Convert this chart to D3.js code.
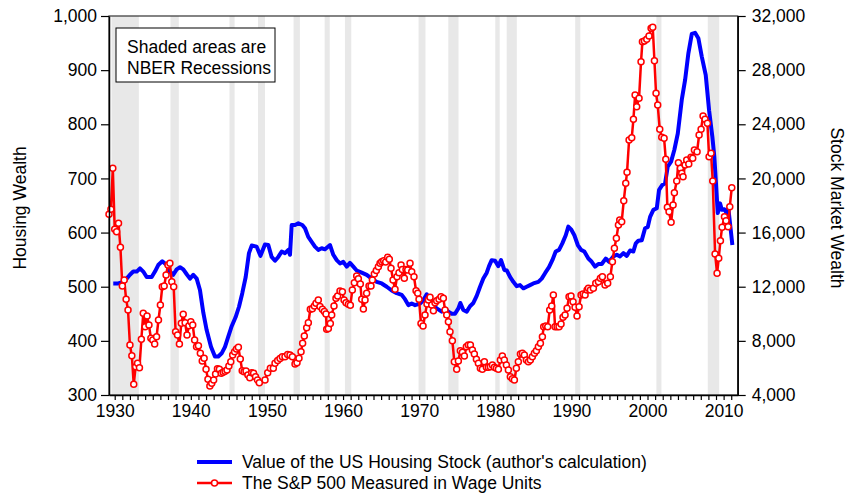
<!DOCTYPE html>
<html>
<head>
<meta charset="utf-8">
<script src="https://d3js.org/d3.v7.min.js"></script>
<style>
  body { margin: 0; background: #fff; }
  text { font-family: "Liberation Sans", Arial, sans-serif; fill: #000; }
</style>
</head>
<body>
<svg id="chart" width="848" height="496"></svg>
<script>
// NBER recessions (start, end) in fractional years
var recessions = [
  [1929.58, 1933.17], [1937.33, 1938.42], [1945.08, 1945.75], [1948.83, 1949.75],
  [1953.5, 1954.33], [1957.58, 1958.25], [1960.25, 1961.08], [1969.92, 1970.83],
  [1973.83, 1975.17], [1980.0, 1980.58], [1981.5, 1982.83], [1990.5, 1991.17],
  [2001.17, 2001.83], [2007.92, 2009.42]
];

// value of the US housing stock [year, value]
var housing = [
  [1929.81,506],[1930.47,506],[1931.12,509],[1931.57,515],[1932.0,522],[1932.44,528],[1932.89,528],
  [1933.32,534],[1933.75,528],[1934.2,518],[1934.86,518],[1935.29,528],[1935.72,540],[1936.25,547],
  [1936.83,540],[1937.26,528],[1937.69,522],[1938.14,532],[1938.58,536],[1939.01,532],[1939.46,523],
  [1939.89,515],[1940.32,522],[1940.77,515],[1941.2,494],[1941.64,452],[1942.08,420],[1942.65,389],
  [1943.17,371],[1943.61,371],[1944.05,377],[1944.49,389],[1944.92,408],[1945.37,427],[1945.89,444],
  [1946.33,463],[1946.76,488],[1947.21,518],[1947.64,562],[1948.0,576],[1948.65,574],[1949.15,557],
  [1949.74,578],[1950.18,577],[1950.62,555],[1951.06,548],[1951.49,555],[1951.94,565],[1952.37,562],
  [1952.81,568],[1953.03,559],[1953.25,614],[1953.69,614],[1954.12,617],[1954.65,614],[1955.0,608],
  [1955.43,592],[1955.88,583],[1956.31,574],[1956.75,568],[1957.19,571],[1957.63,569],[1958.29,577],
  [1958.72,559],[1959.17,549],[1959.6,543],[1960.03,546],[1960.48,537],[1960.91,544],[1961.35,537],
  [1961.79,530],[1962.45,526],[1963.11,522],[1963.77,515],[1964.42,509],[1965.08,506],[1965.74,500],
  [1966.39,493],[1967.05,488],[1967.71,485],[1968.14,477],[1968.58,466],[1969.02,469],[1969.46,466],
  [1970.11,469],[1970.55,475],[1970.99,486],[1971.43,475],[1971.86,466],[1972.31,460],[1972.96,454],
  [1973.4,460],[1973.83,454],[1974.28,450],[1974.71,450],[1975.15,460],[1975.41,470],[1975.8,457],
  [1976.25,454],[1976.68,464],[1977.12,470],[1977.56,483],[1978.0,500],[1978.43,515],[1978.88,526],
  [1979.18,538],[1979.53,549],[1979.97,548],[1980.4,538],[1980.76,549],[1981.19,531],[1981.51,530],
  [1981.94,518],[1982.37,509],[1982.82,501],[1983.25,503],[1983.69,497],[1984.13,500],[1984.57,503],
  [1985.0,506],[1985.66,509],[1986.1,515],[1986.54,525],[1987.06,536],[1987.5,549],[1987.94,565],
  [1988.38,568],[1988.81,580],[1989.26,595],[1989.6,611],[1989.96,606],[1990.39,595],[1990.84,577],
  [1991.27,568],[1991.7,565],[1992.23,552],[1992.67,546],[1993.11,537],[1993.54,542],[1993.99,542],
  [1994.51,552],[1994.95,546],[1995.51,556],[1995.96,559],[1996.39,556],[1996.83,562],[1997.27,557],
  [1997.71,567],[1998.14,565],[1998.46,580],[1998.8,585],[1999.25,586],[1999.68,608],[2000.03,610],
  [2000.34,629],[2000.77,642],[2001.22,645],[2001.52,679],[2001.95,688],[2002.31,691],[2002.66,722],
  [2003.1,731],[2003.53,753],[2003.98,783],[2004.5,845],[2004.94,882],[2005.37,931],[2005.82,967],
  [2006.25,969],[2006.68,959],[2007.13,925],[2007.65,891],[2008.09,826],[2008.52,777],[2008.78,740],
  [2008.97,697],[2009.23,636],[2009.53,654],[2009.76,642],[2010.1,643],[2010.41,636],[2010.62,645],
  [2010.89,611],[2011.15,577]
];

// S&P 500 measured in wage units [year, value]
var stocks = [
  [1929.25,17350],[1929.5,17720],[1929.75,20750],[1930,16240],[1930.25,16060],[1930.5,16690],
  [1930.75,14910],[1931,12050],[1931.25,12500],[1931.5,11070],[1931.75,10280],[1932,7690],
  [1932.25,6900],[1932.5,4790],[1932.75,6090],[1933,6340],[1933.25,6020],[1933.5,8110],
  [1933.75,10040],[1934,9050],[1934.25,9840],[1934.5,9170],[1934.75,8190],[1935,8060],
  [1935.25,7770],[1935.5,8310],[1935.75,9540],[1936,10650],[1936.25,12000],[1936.5,12050],
  [1936.75,12870],[1937,13600],[1937.25,13730],[1937.5,12370],[1937.75,12000],[1938,8680],
  [1938.25,8430],[1938.5,7770],[1938.75,9300],[1939,9960],[1939.25,9340],[1939.5,8430],
  [1939.75,9120],[1940,9420],[1940.25,9170],[1940.5,8060],[1940.75,7570],[1941,7640],
  [1941.25,7080],[1941.5,6510],[1941.75,6710],[1942,5900],[1942.25,5160],[1942.5,4660],
  [1942.75,4860],[1943,5110],[1943.25,5550],[1943.5,5940],[1943.75,5900],[1944,5600],
  [1944.25,5680],[1944.5,5750],[1944.75,5850],[1945,6140],[1945.25,6460],[1945.5,6960],
  [1945.75,7200],[1946,7400],[1946.25,7520],[1946.5,6660],[1946.75,5800],[1947,5720],
  [1947.25,5770],[1947.5,5480],[1947.75,5280],[1948,5650],[1948.25,5600],[1948.5,5350],
  [1948.75,5110],[1949,4900],
  [1949.75,5108],[1950.1,5650],[1950.45,5970],[1950.84,5970],[1951.06,6340],[1951.41,6540],
  [1951.72,6690],[1952.02,6830],[1952.37,6830],[1952.72,7000],[1953.03,6960],[1953.34,6830],
  [1953.69,6290],[1953.95,6390],[1954.21,6710],[1954.48,7200],[1954.69,7820],[1954.91,8360],
  [1955.22,8970],[1955.44,9340],[1955.7,10330],[1955.96,10380],[1956.23,10580],[1956.45,10770],
  [1956.75,11020],[1956.97,10530],[1957.28,10330],[1957.54,10160],[1957.76,9980],[1957.85,8850],
  [1958.07,8920],[1958.33,9290],[1958.51,9910],[1958.81,10580],[1959.07,11140],[1959.29,11310],
  [1959.6,11680],[1959.91,11630],[1960.13,11020],[1960.39,10820],[1960.7,10700],[1960.96,10630],
  [1961.22,11760],[1961.48,12300],[1961.79,12790],[1962.01,12590],[1962.27,12200],[1962.45,11070],
  [1962.67,10350],[1962.89,11020],[1963.1,11510],[1963.41,12050],[1963.67,12050],[1963.85,12500],
  [1964.11,12940],[1964.37,13190],[1964.64,13480],[1964.86,13730],[1965.08,13850],[1965.34,13920],
  [1965.6,13830],[1965.86,14170],[1966.08,14030],[1966.3,13360],[1966.57,12500],[1966.83,11810],
  [1967.09,12740],[1967.35,13040],[1967.62,13600],[1967.79,13280],[1968.05,12620],[1968.27,13280],
  [1968.49,13240],[1968.8,13730],[1969.02,13110],[1969.32,12740],[1969.59,11710],[1969.81,11510],
  [1969.98,11070],[1970.24,9290],[1970.51,9100],[1970.77,9910],[1971.03,10720],[1971.21,11020],
  [1971.43,11220],[1971.65,10650],[1971.87,10230],[1972.08,10820],[1972.3,10970],[1972.61,11070],
  [1972.87,11265],[1973.18,11140],[1973.4,10280],[1973.62,9910],[1973.84,9420],[1974.05,8680],
  [1974.36,8015],[1974.62,6460],[1974.93,5900],[1975.15,6510],[1975.41,7275],[1975.68,7150],
  [1975.94,6880],[1976.2,7570],[1976.46,7690],[1976.73,7690],[1976.99,7325],[1977.25,7030],
  [1977.52,6640],[1977.78,6340],[1978.04,5970],[1978.3,5900],[1978.57,6460],[1978.83,6045],
  [1979.09,6045],[1979.35,6095],[1979.62,6220],[1979.88,6045],[1980.14,5970],[1980.41,5900],
  [1980.67,6590],[1980.93,6880],[1981.19,6590],[1981.46,6220],[1981.72,5850],[1981.98,5355],
  [1982.25,5205],[1982.51,5110],[1982.77,5970],[1983.03,6460],[1983.3,7030],[1983.56,7080],
  [1983.82,6955],[1984.09,6590],[1984.35,6460],[1984.61,6590],[1984.87,6830],[1985.14,7080],
  [1985.4,7275],[1985.66,7570],[1985.93,7820],[1986.19,8310],[1986.36,9050],[1986.63,9100],
  [1986.89,9050],[1987.15,10280],[1987.41,10575],[1987.63,11390],[1987.85,9050],[1988.12,9050],
  [1988.38,9050],[1988.64,9245],[1988.9,9740],[1989.17,9910],[1989.43,10400],[1989.69,11265],
  [1989.95,11315],[1990.22,10895],[1990.48,10480],[1990.74,9837],[1991.01,10525],[1991.27,11390],
  [1991.53,11460],[1991.8,11390],[1992.06,11760],[1992.23,11880],
  [1992.5,11757],[1992.89,11880],[1993.2,12250],[1993.55,12375],[1993.81,12620],[1994.07,12740],
  [1994.42,12127],[1994.77,12250],[1995.12,12740],[1995.39,13850],[1995.65,14835],[1995.91,15575],
  [1996.18,16560],[1996.35,16930],[1996.61,16805],[1996.88,18355],[1997.14,19640],[1997.31,20450],
  [1997.58,22840],[1997.93,23010],[1998.15,24370],[1998.37,26165],[1998.58,25300],[1998.89,25920],
  [1999.15,28625],[1999.33,30105],[1999.59,30155],[1999.9,30280],[2000.2,30525],[2000.47,31090],
  [2000.69,31165],[2000.91,28700],[2001.12,26290],[2001.34,25425],[2001.61,23630],[2001.87,23040],
  [2002.18,22965],[2002.4,21410],[2002.61,17870],[2002.83,17545],[2003.1,16760],[2003.36,18040],
  [2003.53,18950],[2003.84,19810],[2004.06,21165],[2004.32,20750],[2004.5,20380],[2004.67,20130],
  [2004.94,20990],[2005.15,21360],[2005.42,21065],[2005.72,21560],[2005.94,21485],[2006.16,22100],
  [2006.51,21975],[2006.78,23210],[2007.04,23630],[2007.3,24610],[2007.56,24370],[2007.87,24070],
  [2008.09,21610],[2008.35,21855],[2008.57,19810],[2008.88,14420],[2009.14,12990],[2009.36,14100],
  [2009.58,15400],[2009.8,16390],[2010.11,17175],[2010.32,16880],[2010.59,16435],[2010.81,17915],
  [2011.07,19320]
];

var leftTicks = [300, 400, 500, 600, 700, 800, 900, 1000];
var rightTicks = [4000, 8000, 12000, 16000, 20000, 24000, 28000, 32000];
var yearTicks = d3.range(1930, 2012);
var noteLines = ["Shaded areas are", "NBER Recessions"];
var seriesNames = ["Value of the US Housing Stock (author's calculation)",
                   "The S&P 500 Measured in Wage Units"];

var plotL = 109, plotR = 737.7, plotT = 16, plotB = 395;
var fs = 17.5;

var svg = d3.select("#chart");

var x = d3.scaleLinear().domain([1929.25, 2011.85]).range([plotL, plotR]);
var yL = d3.scaleLinear().domain([300, 1000]).range([plotB, plotT]);
var yR = d3.scaleLinear().domain([4000, 32000]).range([plotB, plotT]);

svg.append("clipPath").attr("id", "plot")
  .append("rect").attr("x", plotL).attr("y", plotT)
  .attr("width", plotR - plotL).attr("height", plotB - plotT);

// recession bands
svg.append("g").attr("clip-path", "url(#plot)")
  .selectAll("rect").data(recessions).enter().append("rect")
  .attr("x", d => x(d[0]))
  .attr("width", d => x(d[1]) - x(d[0]))
  .attr("y", plotT).attr("height", plotB - plotT)
  .attr("fill", "#e8e8e8");

// frame
svg.append("rect").attr("x", plotL).attr("y", plotT)
  .attr("width", plotR - plotL).attr("height", plotB - plotT)
  .attr("fill", "none").attr("stroke", "#333").attr("stroke-width", 1.2);

// housing line
svg.append("path").datum(housing)
  .attr("d", d3.line().x(d => x(d[0])).y(d => yL(d[1])))
  .attr("fill", "none").attr("stroke", "#0000ff")
  .attr("stroke-width", 4).attr("stroke-linejoin", "round");

// S&P line + markers
svg.append("path").datum(stocks)
  .attr("d", d3.line().x(d => x(d[0])).y(d => yR(d[1])))
  .attr("fill", "none").attr("stroke", "#ff0000")
  .attr("stroke-width", 2.5).attr("stroke-linejoin", "round");

svg.append("g").selectAll("circle").data(stocks).enter().append("circle")
  .attr("cx", d => x(d[0])).attr("cy", d => yR(d[1])).attr("r", 3)
  .attr("fill", "#fff").attr("stroke", "#ff0000").attr("stroke-width", 1.5);

// axes
var axL = svg.append("g").attr("transform", "translate(" + plotL + ",0)")
  .call(d3.axisLeft(yL).tickValues(leftTicks).tickFormat(d3.format(","))
    .tickSize(8).tickSizeOuter(0).tickPadding(4));
var axR = svg.append("g").attr("transform", "translate(" + plotR + ",0)")
  .call(d3.axisRight(yR).tickValues(rightTicks).tickFormat(d3.format(","))
    .tickSize(8).tickSizeOuter(0).tickPadding(6));
var axB = svg.append("g").attr("transform", "translate(0," + plotB + ")")
  .call(d3.axisBottom(x).tickValues(yearTicks)
    .tickFormat(d => d % 10 === 0 ? d : "")
    .tickSize(5).tickSizeOuter(0).tickPadding(5));

[axL, axR, axB].forEach(function(g) {
  g.selectAll("text").attr("font-size", fs).attr("font-family", null).attr("fill", "#000");
  g.selectAll("line").attr("stroke", "#000").attr("stroke-width", 1.2);
  g.select(".domain").attr("stroke", "#000").attr("stroke-width", 1.5);
});

// axis titles
svg.append("text").attr("transform", "translate(26,208) rotate(-90)")
  .attr("text-anchor", "middle").attr("font-size", fs).text("Housing Wealth");
svg.append("text").attr("transform", "translate(831,208) rotate(90)")
  .attr("text-anchor", "middle").attr("font-size", fs).text("Stock Market Wealth");

// note box
svg.append("rect").attr("x", 116).attr("y", 28).attr("width", 159).attr("height", 54)
  .attr("fill", "#fff").attr("stroke", "#000").attr("stroke-width", 1);
svg.append("g").selectAll("text").data(noteLines).enter().append("text")
  .attr("x", 127).attr("y", (d, i) => 52.5 + i * 21)
  .attr("font-size", fs).text(d => d);

// legend
var leg = svg.append("g");
leg.append("line").attr("x1", 197).attr("x2", 232).attr("y1", 462).attr("y2", 462)
  .attr("stroke", "#0000ff").attr("stroke-width", 4);
leg.append("line").attr("x1", 197).attr("x2", 232).attr("y1", 483).attr("y2", 483)
  .attr("stroke", "#ff0000").attr("stroke-width", 2.5);
leg.append("circle").attr("cx", 214.5).attr("cy", 483).attr("r", 3)
  .attr("fill", "#fff").attr("stroke", "#ff0000").attr("stroke-width", 1.5);
leg.selectAll("text").data(seriesNames).enter().append("text")
  .attr("x", 242).attr("y", (d, i) => 468 + i * 21)
  .attr("font-size", fs).text(d => d);
</script>
</body>
</html>
